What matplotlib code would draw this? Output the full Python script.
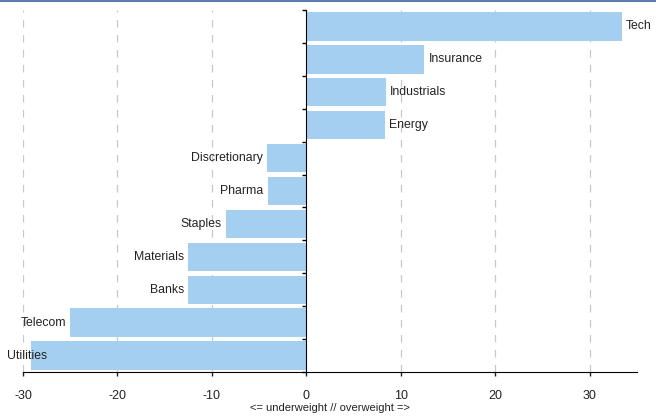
import matplotlib.pyplot as plt
from matplotlib.lines import Line2D
import numpy as np

sectors = ['Tech', 'Insurance', 'Industrials', 'Energy', 'Discretionary', 'Pharma',
           'Staples', 'Materials', 'Banks', 'Telecom', 'Utilities']
weights = [33.4, 12.5, 8.4, 8.3, -4.2, -4.1, -8.5, -12.5, -12.5, -25.0, -29.2]

plt.rcParams['font.family'] = ['Liberation Sans', 'DejaVu Sans']
plt.rcParams['axes.unicode_minus'] = False

fig = plt.figure(figsize=(6.56, 4.16), dpi=100)
ax = fig.add_axes([23 / 656, 1 - 372 / 416, (637 - 23) / 656, (372 - 10) / 416])

y = np.arange(len(sectors))
ax.barh(y, weights, height=0.86, color='#a4cff0', zorder=2)
ax.set_ylim(len(sectors) - 0.5, -0.5)
ax.set_xlim(-30, 35)

# labels next to the bar ends
for yi, name, v in zip(y, sectors, weights):
    if v >= 0:
        ax.annotate(name, (v, yi), xytext=(3, 0), textcoords='offset points',
                    ha='left', va='center', fontsize=8.8, color='#222222')
    elif v < -28:
        ax.text(-31.7, yi, name, ha='left', va='center', fontsize=8.8,
                color='#222222', clip_on=False)
    else:
        ax.annotate(name, (v, yi), xytext=(-3, 0), textcoords='offset points',
                    ha='right', va='center', fontsize=8.8, color='#222222')

ax.set_xticks([-30, -20, -10, 0, 10, 20, 30])
ax.set_yticks(np.arange(len(sectors) + 1) - 0.5)
ax.set_yticklabels([])
for gx in [-30, -20, -10, 10, 20, 30]:
    ax.axvline(gx, color='#c8c8c8', linestyle=(0, (6, 6)), linewidth=0.9, zorder=1)

ax.spines['top'].set_visible(False)
ax.spines['right'].set_visible(False)
ax.spines['left'].set_position(('data', 0))
ax.spines['left'].set_zorder(3)
ax.tick_params(axis='y', length=3, direction='out', width=1)
ax.tick_params(axis='x', length=3, direction='out', width=1, labelsize=9,
               pad=10, colors='#222222')
ax.set_xlabel('<= underweight // overweight =>', fontsize=8, labelpad=1,
              color='#222222')

fig.add_artist(Line2D([0, 1], [0.998, 0.998], color='#5a7fae', linewidth=1.5,
                      transform=fig.transFigure))

fig.savefig('out.png', dpi=100)
